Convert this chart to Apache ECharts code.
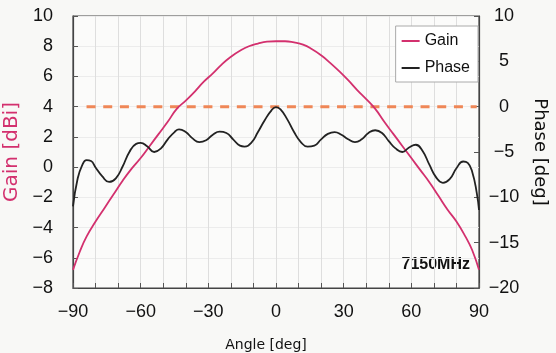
<!DOCTYPE html>
<html>
<head>
<meta charset="utf-8">
<script src="https://cdn.jsdelivr.net/npm/echarts@6/dist/echarts.min.js"></script>
<style>
  html, body { margin: 0; padding: 0; background: #f8f8f6; }
  #chart { width: 556px; height: 353px; }
</style>
</head>
<body>
<div id="chart"></div>
<script>
// gain pattern (dBi) vs angle
var gainAngles = [-90, -87, -84, -80, -76, -72, -68, -64, -60, -56, -52, -48, -44, -40, -36, -32, -28, -24, -20, -16, -12, -8, -4, 0,
  4, 8, 12, 16, 20, 24, 28, 32, 36, 40, 44, 48, 52, 56, 60, 64, 68, 72, 76, 80, 84, 87, 90];
var gainValues = [-6.8, -5.6, -4.6, -3.6, -2.7, -1.8, -0.9, -0.1, 0.6, 1.4, 2.2, 3.0, 3.85, 4.4, 5.0, 5.65, 6.2, 6.8, 7.3, 7.7, 8.0, 8.18, 8.3, 8.33,
  8.33, 8.25, 8.1, 7.8, 7.4, 6.9, 6.35, 5.75, 5.1, 4.5, 3.85, 3.0, 2.2, 1.4, 0.6, -0.2, -1.0, -1.9, -2.8, -3.6, -4.6, -5.5, -6.8];

// phase (deg) vs angle
var phaseAngles = [-90, -88, -86, -84, -82, -80, -77, -74, -71, -68, -65, -62, -60, -57, -54, -51, -48, -45, -43, -40, -37, -34, -31,
  -28, -25, -22, -19, -16, -14, -11, -8, -5, -2, 0, 2, 5, 8, 11, 14, 17, 20, 23, 26, 29, 32, 35, 38, 41, 44, 47, 50, 53, 56, 59,
  62, 65, 68, 71, 74, 77, 80, 83, 85, 87, 89, 90];
var phaseValues = [-11.0, -8.0, -6.5, -5.9, -6.0, -6.7, -7.7, -8.3, -7.9, -6.6, -5.0, -4.1, -4.0, -4.4, -5.0, -4.6, -3.6, -2.8, -2.5,
  -2.8, -3.5, -3.9, -3.7, -3.1, -2.75, -2.9, -3.6, -4.3, -4.4, -4.0, -2.8, -1.5, -0.4, -0.05, -0.3, -1.4, -2.8, -3.9, -4.4, -4.3,
  -3.6, -3.0, -2.8, -3.1, -3.6, -3.9, -3.6, -2.9, -2.6, -2.9, -3.8, -4.6, -5.0, -4.5, -4.2, -4.9, -6.4, -7.8, -8.4, -8.0, -6.8,
  -6.05, -6.2, -7.2, -9.5, -11.4];

// phase reference line
var refAngles = [-84, 89];
var refValues = [0, 0];

var xLabels = [-90, -60, -30, 0, 30, 60, 90];

function pairs(xs, ys) {
  return xs.map(function (x, i) { return [x, ys[i]]; });
}
function minus(v) {
  return String(v).replace('-', '\u2212');
}

var FONT = 'Liberation Sans';
var NAMEFONT = 'DejaVu Sans';
var chart = echarts.init(document.getElementById('chart'));

chart.setOption({
  backgroundColor: '#f8f8f6',
  textStyle: { fontFamily: FONT },
  animation: false,
  grid: {
    left: 73, right: 77, top: 16, bottom: 65,
    outerBoundsMode: 'none',
    show: true, borderColor: '#444', borderWidth: 1.2, backgroundColor: '#fbfbfa'
  },
  legend: {
    data: [{ name: 'Gain', icon: 'rect' }, { name: 'Phase', icon: 'rect' }],
    orient: 'vertical',
    right: 78, top: 26,
    backgroundColor: '#fff',
    borderColor: '#aaa', borderWidth: 1,
    padding: [7, 8, 6, 6],
    itemGap: 11,
    itemWidth: 18, itemHeight: 2,
    textStyle: { fontFamily: FONT, fontSize: 16, color: '#111' }
  },
  xAxis: {
    type: 'value', min: -90, max: 90, interval: 10,
    name: 'Angle [deg]', nameLocation: 'middle', nameGap: 50,
    nameTextStyle: { fontFamily: NAMEFONT, fontSize: 14, color: '#111', padding: [0, 20, 0, 0] },
    axisLine: { onZero: false, lineStyle: { color: '#444', width: 1.2 } },
    axisTick: { inside: true, length: 5, lineStyle: { color: '#555' } },
    axisLabel: {
      fontSize: 18, color: '#111', margin: 15,
      formatter: function (v) { return xLabels.indexOf(v) >= 0 ? minus(v) : ''; }
    },
    splitLine: { show: true, lineStyle: { color: '#dedede', width: 1 } }
  },
  yAxis: [{
    type: 'value', min: -8, max: 10, interval: 2,
    name: 'Gain [dBi]', nameLocation: 'middle', nameGap: 34,
    nameTextStyle: { fontFamily: NAMEFONT, fontSize: 20, color: '#d3306e' },
    axisLine: { show: true, onZero: false, lineStyle: { color: '#444', width: 1.2 } },
    axisTick: { show: true, inside: true, length: 5, lineStyle: { color: '#555' } },
    axisLabel: { fontSize: 18, color: '#111', margin: 20, formatter: minus },
    splitLine: { show: true, lineStyle: { color: '#ececec', width: 1 } }
  }, {
    type: 'value', min: -20, max: 10, interval: 5, position: 'right',
    name: 'Phase [deg]', nameLocation: 'middle', nameGap: 52, nameRotate: -90,
    nameTextStyle: { fontFamily: NAMEFONT, fontSize: 18, color: '#111' },
    axisLine: { show: true, onZero: false, lineStyle: { color: '#444', width: 1.2 } },
    axisTick: { show: true, inside: true, length: 5, lineStyle: { color: '#555' } },
    axisLabel: { fontSize: 18, color: '#111', margin: 25, align: 'center', formatter: minus },
    splitLine: { show: false }
  }],
  series: [{
    name: 'Gain', type: 'line', yAxisIndex: 0, smooth: true, symbol: 'none',
    lineStyle: { color: '#d3306e', width: 1.8 },
    itemStyle: { color: '#d3306e' },
    data: pairs(gainAngles, gainValues),
    z: 3
  }, {
    name: 'Phase', type: 'line', yAxisIndex: 1, smooth: true, symbol: 'none',
    lineStyle: { color: '#222', width: 1.8 },
    itemStyle: { color: '#222' },
    data: pairs(phaseAngles, phaseValues),
    z: 4
  }, {
    name: 'ref', type: 'line', yAxisIndex: 1, symbol: 'none',
    lineStyle: { color: '#ef8757', width: 3, type: [9, 7.7] },
    data: pairs(refAngles, refValues),
    z: 2
  }],
  graphic: [{
    type: 'text', right: 86, top: 257,
    style: { text: '7150MHz', fontFamily: FONT, fontSize: 16, fontWeight: 'bold', fill: '#111' }
  }]
});
</script>
</body>
</html>
